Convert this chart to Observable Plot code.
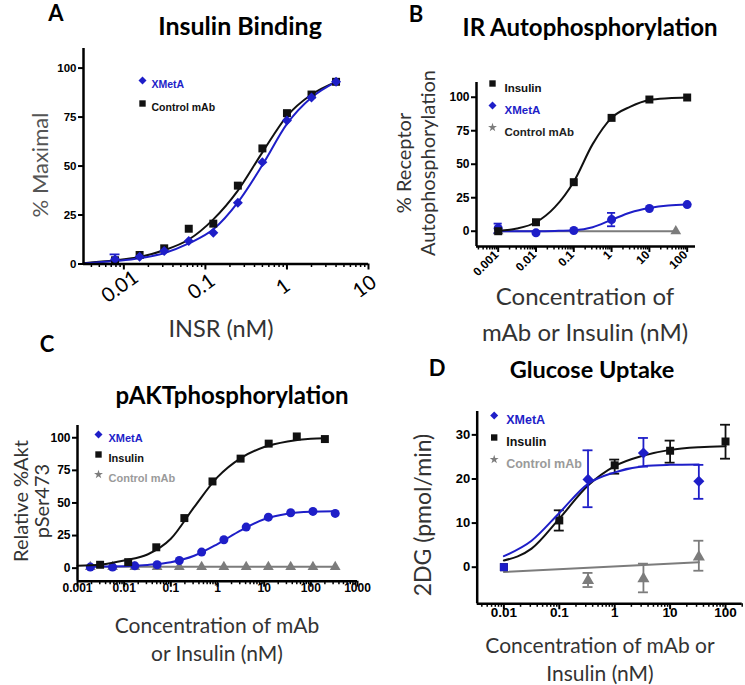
<!DOCTYPE html>
<html><head><meta charset="utf-8">
<script src="https://cdn.jsdelivr.net/npm/d3@7"></script>
<script src="https://cdn.jsdelivr.net/npm/@observablehq/plot@0.6"></script>
<style>
html,body{margin:0;padding:0;background:#fff;}
#fig{position:relative;width:745px;height:685px;overflow:hidden;background:#fff;}
.t{position:absolute;white-space:pre;text-align:center;transform-origin:center center;}
</style></head><body><div id="fig"></div>
<script>
// ---------- Panel A: Insulin Binding ----------
const A_x = [0.0078, 0.0156, 0.03125, 0.0625, 0.125, 0.25, 0.5, 1, 2, 4];
const A_control = [1.9, 4.6, 8, 18, 20.6, 40, 59, 77, 86.5, 93];
const A_xmeta = [2.4, 3.7, 6.6, 11.7, 16, 31.3, 52, 73.3, 85, 93];
const A_xmetaErr = [2.5, 0, 0, 0, 0, 0, 0, 0, 0, 0];
const A_fitX = [0.0032, 0.0078, 0.0156, 0.031, 0.0625, 0.125, 0.25, 0.5, 1, 2, 4];
const A_controlFit = [0.4, 1.9, 3.6, 7, 12.5, 22.8, 37.5, 57, 75.5, 86.5, 93];
const A_xmetaFit = [0.3, 1.5, 2.9, 5.5, 10.5, 17.7, 31.5, 50.5, 71.5, 85, 93];
const A_xTicks = [0.01, 0.1, 1, 10];
const A_xTickLabels = ["0.01", "0.1", "1", "10"];
const A_yTicks = [0, 25, 50, 75, 100];
const A_legend = ["XMetA", "Control mAb"];

// ---------- Panel B: IR Autophosphorylation ----------
const B_x = [0.001, 0.01, 0.1, 1, 10, 100];
const B_insulin = [0, 6.7, 36.6, 84.6, 98.3, 99.8];
const B_xmeta = [2.2, -1.2, 0.5, 8.7, 17, 19.9];
const B_xmetaErr = [3.5, 0, 0, 5, 0, 0];
const B_controlX = [0.001, 50];
const B_control = [0, 0];
const B_fitX = [0.001, 0.00316, 0.01, 0.0316, 0.1, 0.316, 1, 3.16, 10, 31.6, 100];
const B_insulinFit = [0.3, 2, 6.7, 18, 37, 65, 84.6, 93, 98, 99.3, 99.8];
const B_xmetaFit = [0, 0, 0, 0.2, 0.7, 3, 8.5, 14, 17.3, 19.2, 19.9];
const B_xTicks = [0.001, 0.01, 0.1, 1, 10, 100];
const B_xTickLabels = ["0.001", "0.01", "0.1", "1", "10", "100"];
const B_yTicks = [0, 25, 50, 75, 100];
const B_legend = ["Insulin", "XMetA", "Control mAb"];

// ---------- Panel C: pAKT phosphorylation ----------
const C_insX = [0.00305, 0.0122, 0.0488, 0.195, 0.781, 3.125, 12.5, 50, 200];
const C_insulin = [2.6, 4.6, 16, 38.4, 66.5, 84, 95.5, 101, 99];
const C_mabX = [0.00188, 0.00564, 0.0169, 0.0508, 0.152, 0.457, 1.37, 4.12, 12.3, 37, 111, 333];
const C_xmeta = [0.8, 0.8, 1.8, 2.6, 5.9, 12.3, 21.8, 31.5, 39.1, 42.5, 43.5, 42];
const C_control = [1, 1, 1, 1, 1, 1, 1, 1, 1, 1, 1, 1];
const C_insFitX = [0.001, 0.00316, 0.01, 0.0316, 0.1, 0.316, 1, 3.16, 10, 31.6, 100, 200];
const C_insulinFit = [1.8, 2.8, 5.9, 10.5, 22.5, 46.8, 69.8, 84.4, 92.9, 97.2, 99.3, 99.6];
const C_mabFitX = [0.00188, 0.01, 0.0316, 0.1, 0.316, 1, 3.16, 10, 31.6, 100, 333];
const C_xmetaFit = [1.2, 1.5, 2.5, 4.5, 9.5, 18.5, 29, 37.5, 41.8, 43.3, 43.7];
const C_xTicks = [0.001, 0.01, 0.1, 1, 10, 100, 1000];
const C_xTickLabels = ["0.001", "0.01", "0.1", "1", "10", "100", "1000"];
const C_yTicks = [0, 25, 50, 75, 100];
const C_legend = ["XMetA", "Insulin", "Control mAb"];

// ---------- Panel D: Glucose Uptake ----------
const D_insX = [0.01, 0.1, 1, 10, 100];
const D_insulin = [0, 10.6, 23.1, 26.4, 28.5];
const D_insulinLo = [0, 8.3, 21.2, 23.7, 24.6];
const D_insulinHi = [0, 12.9, 24.4, 28.7, 32.3];
const D_mabX = [0.01, 0.33, 3.3, 33];
const D_xmeta = [0, 19.9, 25.9, 19.5];
const D_xmetaLo = [0, 13.6, 22.8, 15.5];
const D_xmetaHi = [0, 26.5, 29.3, 23.2];
const D_control = [0, -3.0, -2.6, 2.3];
const D_controlLo = [0, -4.5, -5.7, -0.8];
const D_controlHi = [0, -1.3, 0.8, 6.0];
const D_insFitX = [0.01, 0.0316, 0.1, 0.33, 1, 3.3, 10, 33, 100];
const D_insulinFit = [1.5, 4.2, 11, 18.5, 22.9, 25.3, 26.6, 27.2, 27.4];
const D_mabFitX = [0.01, 0.0316, 0.1, 0.33, 1, 3.3, 10, 33];
const D_xmetaFit = [2.5, 6, 12.3, 18.9, 21.5, 22.9, 23.2, 23.3];
const D_controlFitX = [0.01, 33];
const D_controlFit = [-1.1, 1.1];
const D_xTicks = [0.01, 0.1, 1, 10, 100];
const D_xTickLabels = ["0.01", "0.1", "1", "10", "100"];
const D_yTicks = [0, 10, 20, 30];
const D_legend = ["XMetA", "Insulin", "Control mAb"];

const BLUE = "#1e1ec8", BLACK = "#111111", GRAY = "#7c7c7c", LGRAY = "#9a9a9a";
const TICKFONT = "'Liberation Sans', Arial, sans-serif";
const fig = document.getElementById("fig");

function rows(xs, ys, extra = {}) {
  return xs.map((x, i) => {
    const r = {x, y: ys[i]};
    for (const k in extra) r[k] = extra[k][i];
    return r;
  });
}
function minorTicks(lo, hi) {
  const out = [];
  for (let e = Math.floor(Math.log10(lo)); e <= Math.ceil(Math.log10(hi)); e++) {
    for (let m = 2; m <= 9; m++) {
      const v = m * Math.pow(10, e);
      if (v >= lo && v <= hi) out.push(v);
    }
  }
  return out;
}
function label(txt, cx, cy, o = {}) {
  const d = document.createElement("div");
  d.className = "t";
  d.textContent = txt;
  const size = o.size || 20;
  d.style.left = cx + "px"; d.style.top = cy + "px";
  d.style.fontFamily = o.family || "Lato, 'Open Sans', sans-serif";
  d.style.fontWeight = o.weight || 400;
  d.style.fontSize = size + "px";
  d.style.lineHeight = (o.lh || Math.round(size * 1.2)) + "px";
  d.style.color = o.color || "#000";
  d.style.transform = `translate(-50%,-50%) rotate(${o.rotate || 0}deg)`;
  fig.appendChild(d);
}
function legend(labels, specs, dx0, dy0, gap, textDx, fontSize) {
  return labels.flatMap((lab, i) => [
    Plot.dot([0], {frameAnchor: "top-left", dx: dx0, dy: dy0 + i * gap, symbol: specs[i].symbol, fill: specs[i].color, r: specs[i].r || 3.6}),
    Plot.text([lab], {frameAnchor: "top-left", dx: dx0 + textDx, dy: dy0 + i * gap, text: d => d, fill: specs[i].text || specs[i].color, textAnchor: "start", fontWeight: "bold", fontSize, fontFamily: TICKFONT})
  ]);
}
function errBars(data, color, capFactor, lo = "lo", hi = "hi") {
  const d = data.filter(r => r[hi] !== r[lo]);
  return [
    Plot.ruleX(d, {x: "x", y1: lo, y2: hi, stroke: color, strokeWidth: 1.8}),
    Plot.ruleY(d, {y: hi, x1: r => r.x / capFactor, x2: r => r.x * capFactor, stroke: color, strokeWidth: 1.8}),
    Plot.ruleY(d, {y: lo, x1: r => r.x / capFactor, x2: r => r.x * capFactor, stroke: color, strokeWidth: 1.8})
  ];
}
function panel(cfg) {
  const p = Plot.plot({
    width: cfg.width, height: cfg.height,
    marginLeft: cfg.mL, marginRight: cfg.mR, marginTop: cfg.mT, marginBottom: cfg.mB,
    x: {type: "log", domain: cfg.xDomain, axis: null},
    y: {domain: cfg.yDomain, axis: null},
    style: {position: "absolute", left: cfg.left + "px", top: cfg.top + "px", background: "transparent", overflow: "visible", fontFamily: TICKFONT},
    marks: [
      ...cfg.marks,
      Plot.ruleX([cfg.xDomain[0]], {stroke: "#000", strokeWidth: 2.5}),
      Plot.ruleY([cfg.yDomain[0]], {stroke: "#000", strokeWidth: 2.5}),
      Plot.axisY(cfg.yTicks, {tickSize: 5, strokeWidth: 2, tickPadding: 2, fontWeight: "bold", fontSize: cfg.yFont || 11.5, fontFamily: TICKFONT, fill: "#000", label: null, tickFormat: d => String(d)}),
      Plot.axisX(minorTicks(cfg.xDomain[0], cfg.xDomain[1]), {tickSize: 3.5, strokeWidth: 1.5, tickFormat: () => "", label: null}),
      Plot.axisX(cfg.xTicks, {tickSize: 6, strokeWidth: 2, tickFormat: () => "", label: null}),
      Plot.text(cfg.xTicks, {x: d => d, text: (d, i) => cfg.xTickLabels[i], frameAnchor: "bottom", fill: "#000", ...cfg.xLabelOpts}),
      ...cfg.legend
    ]
  });
  fig.appendChild(p);
}

// ----- Panel A -----
{
  const ctl = rows(A_x, A_control), xm = rows(A_x, A_xmeta, {e: A_xmetaErr}).map(r => ({...r, lo: r.y - r.e, hi: r.y + r.e}));
  panel({
    left: 0, top: 0, width: 372, height: 335, mL: 83, mR: 4, mT: 48, mB: 71.5,
    xDomain: [0.0032, 10], yDomain: [0, 110], yTicks: A_yTicks, xTicks: A_xTicks, xTickLabels: A_xTickLabels,
    xLabelOpts: {dy: 28, rotate: -36, textAnchor: "middle", fontSize: 20, fontFamily: "Lato, sans-serif"},
    marks: [
      Plot.line(rows(A_fitX, A_controlFit), {x: "x", y: "y", stroke: BLACK, strokeWidth: 2, curve: "monotone-x"}),
      Plot.line(rows(A_fitX, A_xmetaFit), {x: "x", y: "y", stroke: BLUE, strokeWidth: 2, curve: "monotone-x"}),
      Plot.dot(ctl, {x: "x", y: "y", symbol: "square", fill: BLACK, r: 4.5}),
      ...errBars(xm, BLUE, 1.15),
      Plot.dot(xm, {x: "x", y: "y", symbol: "diamond2", fill: BLUE, r: 4.5})
    ],
    legend: legend(A_legend, [{symbol: "diamond2", color: BLUE}, {symbol: "square", color: BLACK}], 59, 32, 23, 9, 10.5)
  });
}
// ----- Panel B -----
{
  const xm = rows(B_x, B_xmeta, {e: B_xmetaErr}).map(r => ({...r, lo: r.y - r.e, hi: r.y + r.e}));
  panel({
    left: 370, top: 0, width: 375, height: 335, mL: 106, mR: 50, mT: 82, mB: 89,
    xDomain: [0.000267, 166], yDomain: [-11.4, 111], yTicks: B_yTicks, xTicks: B_xTicks, xTickLabels: B_xTickLabels, yFont: 12,
    xLabelOpts: {dy: 9, dx: 1, rotate: -45, textAnchor: "end", fontSize: 12, fontWeight: "bold", fontFamily: TICKFONT},
    marks: [
      Plot.line(rows(B_controlX, B_control), {x: "x", y: "y", stroke: GRAY, strokeWidth: 2}),
      Plot.dot(rows(B_controlX, B_control), {x: "x", y: "y", symbol: "triangle", fill: GRAY, r: 4}),
      Plot.line(rows(B_fitX, B_xmetaFit), {x: "x", y: "y", stroke: BLUE, strokeWidth: 2, curve: "monotone-x"}),
      ...errBars(xm, BLUE, 1.28),
      Plot.dot(xm, {x: "x", y: "y", symbol: "circle", fill: BLUE, r: 4.5}),
      Plot.line(rows(B_fitX, B_insulinFit), {x: "x", y: "y", stroke: BLACK, strokeWidth: 2, curve: "monotone-x"}),
      Plot.dot(rows(B_x, B_insulin), {x: "x", y: "y", symbol: "square", fill: BLACK, r: 4.5})
    ],
    legend: legend(B_legend, [{symbol: "square", color: BLACK}, {symbol: "diamond2", color: BLUE}, {symbol: "star", color: GRAY, text: "#222", r: 2.8}], 16, 1, 22, 12, 11.5)
  });
}
// ----- Panel C -----
panel({
  left: 0, top: 330, width: 372, height: 355, mL: 77, mR: 15, mT: 95, mB: 104.3,
  xDomain: [0.001, 1000], yDomain: [-10, 109.4], yTicks: C_yTicks, xTicks: C_xTicks, xTickLabels: C_xTickLabels, yFont: 12,
  xLabelOpts: {dy: 11, textAnchor: "middle", fontSize: 12, fontWeight: "bold", fontFamily: TICKFONT},
  marks: [
    Plot.line(rows(C_mabX, C_control), {x: "x", y: "y", stroke: GRAY, strokeWidth: 2}),
    Plot.dot(rows(C_mabX, C_control), {x: "x", y: "y", symbol: "triangle", fill: GRAY, r: 4}),
    Plot.line(rows(C_mabFitX, C_xmetaFit), {x: "x", y: "y", stroke: BLUE, strokeWidth: 2, curve: "monotone-x"}),
    Plot.dot(rows(C_mabX, C_xmeta), {x: "x", y: "y", symbol: "circle", fill: BLUE, r: 4.5}),
    Plot.line(rows(C_insFitX, C_insulinFit), {x: "x", y: "y", stroke: BLACK, strokeWidth: 2, curve: "monotone-x"}),
    Plot.dot(rows(C_insX, C_insulin), {x: "x", y: "y", symbol: "square", fill: BLACK, r: 4.5})
  ],
  legend: legend(C_legend, [{symbol: "diamond2", color: BLUE}, {symbol: "square", color: BLACK}, {symbol: "star", color: GRAY, text: LGRAY, r: 2.8}], 21, 9, 20, 10, 11)
});
// ----- Panel D -----
{
  const ins = rows(D_insX, D_insulin, {lo: D_insulinLo, hi: D_insulinHi});
  const xm = rows(D_mabX, D_xmeta, {lo: D_xmetaLo, hi: D_xmetaHi});
  const ct = rows(D_mabX, D_control, {lo: D_controlLo, hi: D_controlHi});
  panel({
    left: 370, top: 330, width: 375, height: 355, mL: 106.7, mR: 3.3, mT: 81, mB: 81.7,
    xDomain: [0.0033, 200], yDomain: [-8.3, 35.3], yTicks: D_yTicks, xTicks: D_xTicks, xTickLabels: D_xTickLabels, yFont: 13,
    xLabelOpts: {dy: 13, textAnchor: "middle", fontSize: 13.5, fontWeight: "bold", fontFamily: TICKFONT},
    marks: [
      Plot.line(rows(D_controlFitX, D_controlFit), {x: "x", y: "y", stroke: GRAY, strokeWidth: 2}),
      ...errBars(ct.slice(1), GRAY, 1.23),
      Plot.dot(ct.slice(1), {x: "x", y: "y", symbol: "triangle", fill: GRAY, r: 4.5}),
      Plot.line(rows(D_insFitX, D_insulinFit), {x: "x", y: "y", stroke: BLACK, strokeWidth: 2, curve: "monotone-x"}),
      ...errBars(ins, BLACK, 1.23),
      Plot.dot(ins, {x: "x", y: "y", symbol: "square", fill: BLACK, r: 4.5}),
      Plot.line(rows(D_mabFitX, D_xmetaFit), {x: "x", y: "y", stroke: BLUE, strokeWidth: 2, curve: "monotone-x"}),
      ...errBars(xm, BLUE, 1.23),
      Plot.dot(xm.slice(0, 1), {x: "x", y: "y", symbol: "square", fill: BLUE, r: 4.5}),
      Plot.dot(xm.slice(1), {x: "x", y: "y", symbol: "diamond2", fill: BLUE, r: 5})
    ],
    legend: legend(D_legend, [{symbol: "diamond2", color: BLUE}, {symbol: "square", color: BLACK}, {symbol: "star", color: GRAY, text: LGRAY, r: 2.8}], 17, 4, 22, 12, 12.5)
  });
}

// ----- Text: panel letters, titles, axis titles -----
label("A", 56, 13, {size: 22, weight: 700});
label("B", 416, 14, {size: 22, weight: 700});
label("C", 47, 344, {size: 22, weight: 700});
label("D", 437, 368, {size: 22, weight: 700});
label("Insulin Binding", 240, 25, {size: 25, weight: 700});
label("IR Autophosphorylation", 590, 26, {size: 24, weight: 700});
label("pAKTphosphorylation", 232, 394, {size: 24, weight: 700});
label("Glucose Uptake", 592, 369, {size: 23.5, weight: 700});
label("INSR (nM)", 221, 328, {size: 23.5, color: "#333"});
label("% Maximal", 40, 165, {size: 22, color: "#555", rotate: -90});
label("Concentration of", 585, 295, {size: 24, color: "#333"});
label("mAb or Insulin (nM)", 585, 331, {size: 24, color: "#333"});
label("% Receptor\nAutophosphorylation", 415, 163, {size: 20, color: "#333", rotate: -90, lh: 24});
label("Concentration of mAb\nor Insulin (nM)", 217, 639, {size: 21, color: "#333", lh: 28});
label("Relative %Akt\npSer473", 31, 501, {size: 20, color: "#333", rotate: -90, lh: 21});
label("Concentration of mAb or\nInsulin (nM)", 600, 659, {size: 21, color: "#333", lh: 28});
label("2DG (pmol/min)", 422, 515, {size: 23, color: "#333", rotate: -90});
</script></body></html>
